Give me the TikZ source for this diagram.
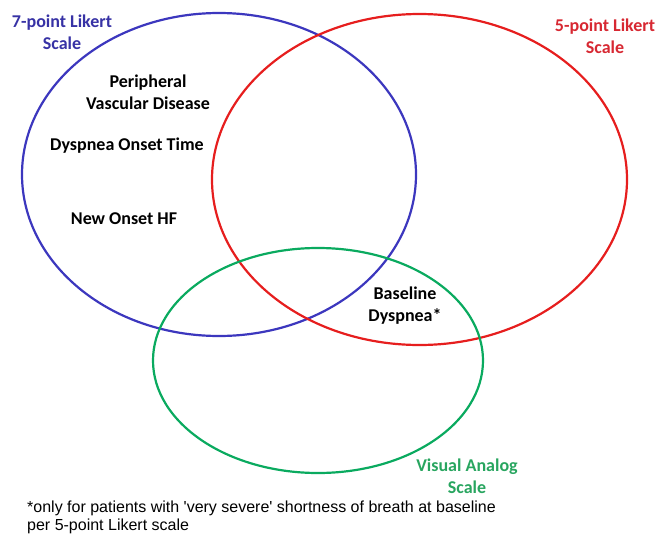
\documentclass[tikz,border=0pt]{standalone}
\usepackage{fontspec}
\setmainfont{Carlito}
\newfontfamily\notefont{Liberation Sans}
\usetikzlibrary{positioning}
\definecolor{likblue}{RGB}{60,55,190}
\definecolor{likred}{RGB}{230,30,30}
\definecolor{vasgreen}{RGB}{10,170,95}
\definecolor{likbluetext}{RGB}{55,50,165}
\definecolor{likredtext}{RGB}{215,40,50}
\definecolor{vasgreentext}{RGB}{40,165,95}
\tikzset{
  setring/.style={line width=2.2pt},
  setname/.style={font=\fontsize{18}{22}\selectfont\bfseries, align=center, inner sep=0pt},
  itemlabel/.style={font=\fontsize{18}{22}\selectfont\bfseries, align=center, inner sep=0pt},
  footnote/.style={font=\notefont\fontsize{16}{18}\selectfont, align=left, inner sep=0pt}
}

\begin{document}
\begin{tikzpicture}[x=1pt, y=-1pt]
  \useasboundingbox (0,0) rectangle (657,536);
  % the three scales
  \draw[setring, likblue] (219,174.5) ellipse [x radius=197, y radius=161.5];
  \draw[setring, likred] (419.5,179.5) ellipse [x radius=207.5, y radius=165.5];
  \draw[setring, vasgreen] (318,360.5) ellipse [x radius=165, y radius=112.5];
  % set names
  \node[setname, text=likbluetext] (seven) at (62,32) {7-point Likert\\Scale};
  \node[setname, text=likredtext] (five) at (605,36) {5-point Likert\\Scale};
  \node[setname, text=vasgreentext] (vas) at (467,476) {Visual Analog\\Scale};
  % members
  \node[itemlabel] (pvd) at (148,92) {Peripheral\\Vascular Disease};
  \node[itemlabel] (onset) at (127,146) {Dyspnea Onset Time};
  \node[itemlabel] (newhf) at (124,219) {New Onset HF};
  \node[itemlabel] (base) at (405,306) {Baseline\\Dyspnea*};
  % footnote
  \node[footnote, anchor=north west] (note) at (27,501) {*only for patients with 'very severe' shortness of breath at baseline\\per 5-point Likert scale};
\end{tikzpicture}
\end{document}
